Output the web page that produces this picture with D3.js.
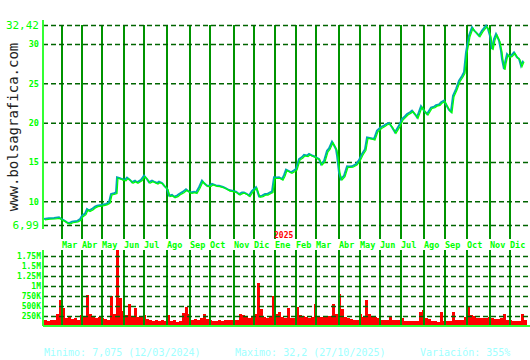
<!DOCTYPE html>
<html>
<head>
<meta charset="utf-8">
<script src="https://cdn.jsdelivr.net/npm/d3@7"></script>
<style>
  body { margin: 0; background: #fff; }
  svg { display: block; font-family: 'DejaVu Sans Mono', monospace; }
</style>
</head>
<body>
<div id="chart"></div>
<script>
// sessions counted from the first trading day shown
const nSessions = 483;

const priceSession = [1, 6, 11, 16, 18, 21, 24, 26, 29, 34, 37, 39, 42, 44, 46, 49, 52, 54, 58, 63,
  66, 68, 71, 73, 74, 77, 79, 82, 84, 87, 89, 92, 94, 98, 101, 104, 106, 109, 111, 114,
  116, 119, 121, 124, 126, 129, 131, 134, 136, 140, 143, 146, 148, 151, 153, 156, 159, 161, 164, 167,
  169, 173, 176, 180, 183, 186, 189, 193, 196, 199, 201, 204, 206, 209, 213, 216, 219, 222, 224, 227,
  229, 231, 234, 236, 239, 241, 243, 246, 248, 251, 253, 256, 259, 261, 264, 266, 269, 271, 274, 276,
  278, 281, 284, 286, 289, 291, 293, 294, 296, 298, 301, 304, 306, 309, 313, 316, 319, 322, 324, 328,
  331, 334, 338, 341, 343, 346, 349, 352, 356, 359, 362, 364, 367, 369, 373, 374, 378, 381, 384, 388,
  391, 393, 396, 398, 401, 404, 406, 408, 410, 413, 416, 419, 421, 423, 426, 429, 431, 433, 436, 439,
  441, 443, 445, 447, 449, 451, 453, 456, 458, 459, 461, 462, 464, 466, 468, 471, 474, 476, 478, 480];

const priceClose = [7.63, 7.72, 7.75, 7.84, 7.63, 7.45, 7.2, 7.1, 7.28, 7.37, 7.6, 8.05, 8.3, 8.9, 8.7, 8.9, 9.2, 9.32, 9.4, 9.54,
  9.75, 10.8, 10.9, 11.0, 12.93, 12.8, 12.7, 12.6, 12.9, 12.6, 12.3, 12.5, 12.3, 12.6, 13.13, 12.7, 12.3, 12.5, 12.37, 12.2,
  12.37, 12.2, 11.86, 11.5, 10.6, 10.7, 10.46, 10.6, 10.8, 11.1, 11.4, 11.1, 11.0, 11.1, 11.0, 11.66, 12.5, 12.2, 11.86, 11.9,
  12.08, 11.9, 11.86, 11.7, 11.53, 11.3, 11.23, 11.1, 10.8, 11.0, 11.0, 10.8, 10.6, 11.2, 11.66, 10.5, 10.6, 10.8, 10.8, 11.0,
  11.1, 12.93, 12.9, 12.93, 12.7, 13.2, 13.9, 13.7, 13.56, 13.8, 13.98, 15.25, 15.5, 15.77, 15.7, 15.9, 15.7, 15.6, 15.4, 15.25,
  14.6, 15.0, 16.3, 16.6, 17.45, 17.0, 16.5, 15.7, 13.56, 12.7, 13.13, 14.33, 14.3, 14.33, 14.6, 15.1, 15.9, 16.5, 18.0, 17.9,
  17.8, 18.86, 19.3, 19.5, 19.7, 19.83, 19.3, 18.65, 19.5, 20.34, 20.7, 20.98, 21.2, 21.4, 20.76, 20.56, 21.96, 21.4, 20.98, 21.8,
  21.9, 22.1, 22.2, 22.46, 22.67, 21.96, 21.5, 21.27, 23.3, 24.15, 25.2, 25.8, 26.28, 28.8, 30.93, 32.0, 31.6, 31.36, 30.93, 31.57,
  31.9, 32.2, 31.78, 30.9, 29.24, 30.5, 31.15, 30.3, 29.0, 27.97, 26.7, 27.5, 28.6, 28.3, 28.4, 28.8, 28.19, 28.0, 27.12, 27.75];

// volume in thousands, one value per block of 3 sessions
const volumeBlock = 3;
const volumeK = [140, 130, 150, 140, 290, 640, 440, 190, 225, 170, 200, 160, 270, 230, 770, 300, 225, 200, 225, 190,
  170, 150, 750, 300, 1900, 700, 370, 270, 540, 260, 440, 230, 220, 270, 180, 150, 120, 150, 130, 150,
  120, 270, 130, 150, 110, 130, 320, 480, 300, 150, 170, 150, 190, 310, 180, 150, 130, 120, 140, 130,
  150, 160, 150, 140, 160, 310, 270, 230, 210, 240, 310, 1070, 420, 230, 200, 230, 740, 310, 350, 230,
  210, 440, 190, 200, 475, 270, 250, 230, 210, 230, 540, 250, 230, 260, 240, 250, 540, 310, 810, 430,
  230, 210, 180, 150, 140, 310, 230, 660, 290, 250, 230, 200, 150, 140, 150, 230, 150, 140, 150, 210,
  130, 120, 130, 120, 130, 340, 410, 190, 170, 120, 120, 110, 340, 130, 120, 130, 340, 150, 140, 150,
  230, 475, 270, 250, 210, 200, 210, 190, 230, 190, 180, 170, 190, 310, 150, 140, 130, 120, 130, 290, 150];

const monthSession = [18, 38, 58, 80, 100, 123, 146, 166, 190, 210, 231, 252, 272, 295, 316, 336, 357, 380, 401, 423, 446, 466];
const monthLabel = ['Mar', 'Abr', 'May', 'Jun', 'Jul', 'Ago', 'Sep', 'Oct', 'Nov', 'Dic', 'Ene', 'Feb',
  'Mar', 'Abr', 'May', 'Jun', 'Jul', 'Ago', 'Sep', 'Oct', 'Nov', 'Dic'];
const yearMarks = [{ session: 231, label: '2025' }];

const priceTicks = [32.42, 30, 25, 20, 15, 10, 6.99];
const volumeTicks = [250000, 500000, 750000, 1000000, 1250000, 1500000, 1750000];

const footer = ['Minimo: 7,075 (12/03/2024)', 'Maximo: 32,2 (27/10/2025)', 'Variación: 355%'];

const W = 530, H = 360;
const left = 44, right = 527;

const svg = d3.select('#chart').append('svg').attr('width', W).attr('height', H);

const x = d3.scaleLinear().domain([0, nSessions]).range([left, right]);
const y = d3.scaleLinear().domain([6.99, 32.42]).range([225, 25]);
const yv = d3.scaleLinear().domain([0, 1750000]).range([326, 256]);

const esFormat = d3.formatLocale({ decimal: ',', thousands: '.', grouping: [3], currency: ['', '€'] });
const priceFmt = (d) => (Number.isInteger(d) ? String(d) : esFormat.format('.2f')(d));
const volFmt = (d) => (d >= 1e6 ? d / 1e6 + 'M' : d / 1e3 + 'K');

// watermark
svg.append('text')
  .attr('transform', 'translate(18,127) rotate(-90)')
  .attr('text-anchor', 'middle')
  .attr('font-size', 14)
  .attr('fill', '#222')
  .text('www.bolsagrafica.com');

// volume bars (under the grid)
svg.append('g')
  .selectAll('rect')
  .data(volumeK)
  .join('rect')
  .attr('x', (d, i) => x(i * volumeBlock))
  .attr('width', (d, i) => x((i + 1) * volumeBlock) - x(i * volumeBlock))
  .attr('y', (d) => yv(d * 1000))
  .attr('height', (d) => yv(0) - yv(d * 1000))
  .attr('fill', '#ff0000')
  .attr('shape-rendering', 'crispEdges');

// month verticals
const vlines = svg.append('g').attr('stroke', '#009400').attr('stroke-width', 2).attr('shape-rendering', 'crispEdges');
vlines.selectAll('line.p')
  .data(monthSession)
  .join('line')
  .attr('class', 'p')
  .attr('x1', (d) => x(d)).attr('x2', (d) => x(d))
  .attr('y1', y(32.42)).attr('y2', 239);
vlines.selectAll('line.v')
  .data(monthSession)
  .join('line')
  .attr('class', 'v')
  .attr('x1', (d) => x(d)).attr('x2', (d) => x(d))
  .attr('y1', 250).attr('y2', yv(0));

// price axis + dashed grid
const pAxis = svg.append('g')
  .attr('transform', `translate(${left - 1},0)`)
  .call(d3.axisLeft(y).tickValues(priceTicks).tickFormat(priceFmt).tickSizeInner(-(right - left + 3)).tickSizeOuter(0).tickPadding(4));
pAxis.select('.domain').remove();
pAxis.selectAll('.tick line')
  .attr('stroke', '#006400').attr('stroke-width', 1.5).attr('stroke-dasharray', '5,3');
pAxis.selectAll('.tick text')
  .attr('fill', '#00ff00')
  .attr('font-family', "'DejaVu Sans Mono', monospace")
  .attr('font-size', (d) => (Number.isInteger(d) ? 8.5 : 11))
  .attr('font-weight', (d) => (Number.isInteger(d) ? 'bold' : 'normal'));

// volume axis + dashed grid
const vAxis = svg.append('g')
  .attr('transform', `translate(${left - 1},0)`)
  .call(d3.axisLeft(yv).tickValues(volumeTicks).tickFormat(volFmt).tickSizeInner(-(right - left + 3)).tickSizeOuter(0).tickPadding(2));
vAxis.select('.domain').remove();
vAxis.selectAll('.tick line')
  .attr('stroke', '#006400').attr('stroke-width', 1.5).attr('stroke-dasharray', '5,3');
vAxis.selectAll('.tick text')
  .attr('fill', '#00ff00')
  .attr('font-family', "'DejaVu Sans Mono', monospace")
  .attr('font-size', 8)
  .attr('font-weight', 'bold');

// axis lines
const axisG = svg.append('g').attr('stroke', '#33ff33').attr('stroke-width', 1.5).attr('shape-rendering', 'crispEdges');
axisG.append('line').attr('x1', left - 1).attr('x2', left - 1).attr('y1', 20).attr('y2', 229);
axisG.append('line').attr('x1', left - 1).attr('x2', left - 1).attr('y1', 250).attr('y2', yv(0));
axisG.append('line').attr('x1', left - 1).attr('x2', W).attr('y1', yv(0)).attr('y2', yv(0));

// price line
const priceData = priceSession.map((s, i) => ({ s, v: priceClose[i] }));
const line = d3.line().x((d) => x(d.s)).y((d) => y(d.v));
svg.append('path')
  .datum(priceData)
  .attr('d', line)
  .attr('transform', 'translate(-1,-1)')
  .attr('fill', 'none')
  .attr('stroke', '#00a8b0')
  .attr('stroke-width', 2);
svg.append('path')
  .datum(priceData)
  .attr('d', line)
  .attr('fill', 'none')
  .attr('stroke', '#00ff00')
  .attr('stroke-width', 1.2);

// month labels
svg.append('g')
  .selectAll('text')
  .data(monthSession)
  .join('text')
  .attr('x', (d) => x(d))
  .attr('y', 248)
  .attr('font-size', 8.5)
  .attr('font-weight', 'bold')
  .attr('fill', '#00ff00')
  .text((d, i) => monthLabel[i]);

svg.append('g')
  .selectAll('text')
  .data(yearMarks)
  .join('text')
  .attr('x', (d) => x(d.session) - 1)
  .attr('y', 238)
  .attr('font-size', 8)
  .attr('font-weight', 'bold')
  .attr('fill', '#ff0000')
  .text((d) => d.label);

// footer
const footerX = [44, 235, 420];
svg.append('g')
  .selectAll('text')
  .data(footer)
  .join('text')
  .attr('x', (d, i) => footerX[i])
  .attr('y', 356)
  .attr('font-size', 10)
  .attr('fill', '#a0ffff')
  .text((d) => d);
</script>
</body>
</html>
